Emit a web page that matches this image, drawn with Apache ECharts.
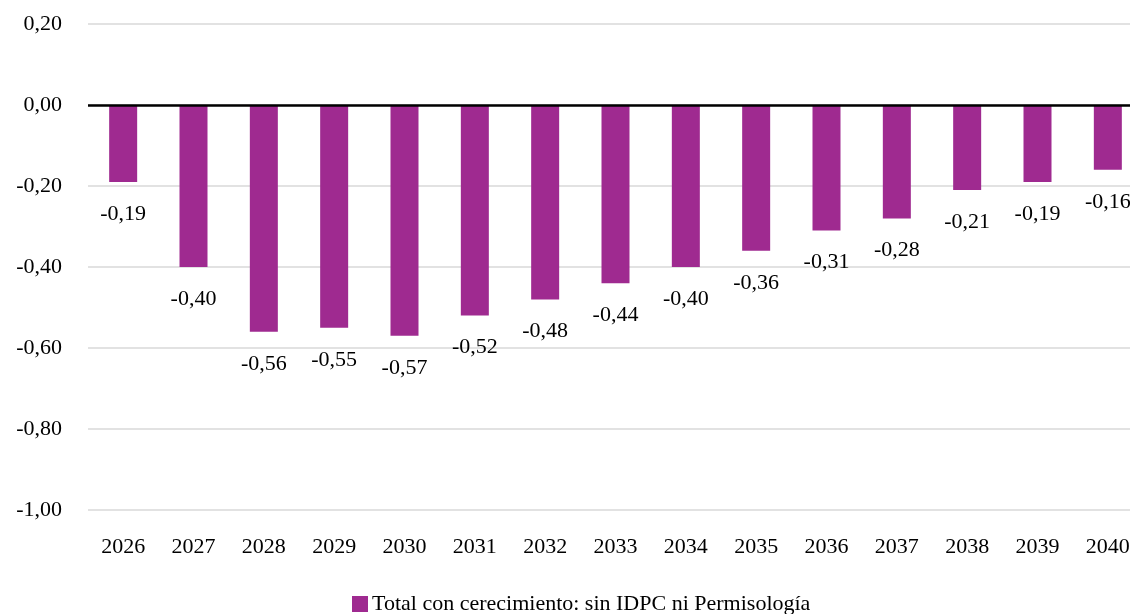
<!DOCTYPE html>
<html><head><meta charset="utf-8">
<script src="https://cdn.jsdelivr.net/npm/echarts@6/dist/echarts.min.js"></script>
<style>html,body{margin:0;padding:0;background:#fff;overflow:hidden;width:1130px;height:614px}#c{width:1143px;height:614px}</style>
</head><body><div id="c"></div>
<script>
const categories = ['2026','2027','2028','2029','2030','2031','2032','2033','2034','2035','2036','2037','2038','2039','2040'];
const values = [-0.19,-0.40,-0.56,-0.55,-0.57,-0.52,-0.48,-0.44,-0.40,-0.36,-0.31,-0.28,-0.21,-0.19,-0.16];
const seriesName = 'Total con cerecimiento: sin IDPC ni Permisología';
const yTicks = {min:-1.0, max:0.2, interval:0.2};
const FONT = 'Liberation Serif';
const FS = 22;
const fmt = v => v.toFixed(2).replace('.', ',');
const chart = echarts.init(document.getElementById('c'), null, {renderer:'canvas'});
chart.setOption({
  animation:false,
  backgroundColor:'#ffffff',
  textStyle:{fontFamily:FONT},
  grid:{left:88, right:0, top:24, bottom:104, containLabel:false},
  legend:{
    data:[seriesName], top:593, left:352, padding:0, icon:'rect', itemWidth:16, itemHeight:16, itemGap:6,
    textStyle:{fontFamily:FONT, fontSize:FS, color:'#000', padding:[0,0,0,-1]}
  },
  xAxis:{
    type:'category', data:categories,
    axisLine:{show:false}, axisTick:{show:false},
    axisLabel:{fontFamily:FONT, fontSize:FS, color:'#000', margin:26}
  },
  yAxis:{
    type:'value', min:yTicks.min, max:yTicks.max, interval:yTicks.interval,
    axisLine:{show:false}, axisTick:{show:false},
    splitLine:{lineStyle:{color:'#d9d9d9', width:1.5}},
    axisLabel:{fontFamily:FONT, fontSize:FS, color:'#000', margin:26, formatter:fmt}
  },
  series:[{
    name:seriesName, type:'bar', data:values, barWidth:28,
    itemStyle:{color:'#9F2A90'},
    label:{show:true, position:'bottom', distance:21, fontFamily:FONT, fontSize:FS, color:'#000', formatter:p=>fmt(p.value)},
    markLine:{silent:true, symbol:'none', label:{show:false}, lineStyle:{color:'#000', width:2.5, type:'solid'}, data:[{yAxis:0}]}
  }]
});
</script></body></html>
